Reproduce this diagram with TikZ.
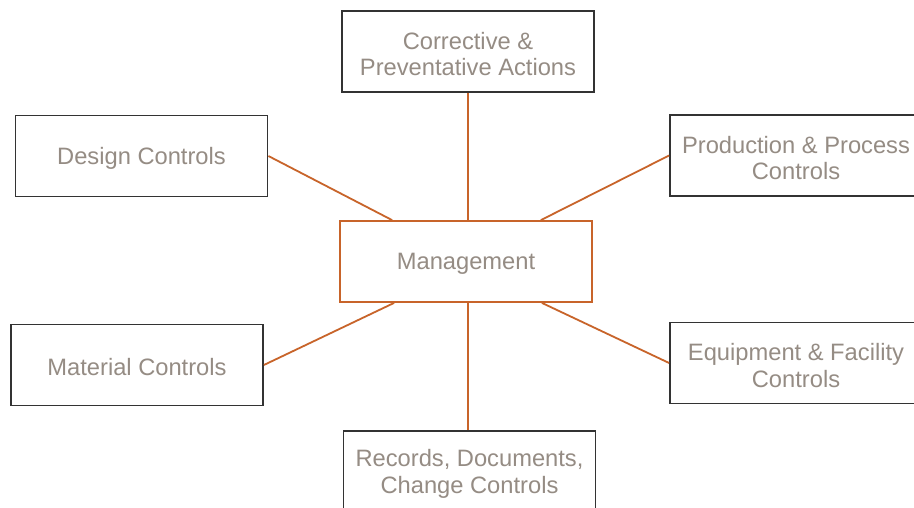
\documentclass[tikz,border=0pt]{standalone}
\usepackage{fontspec}
\setmainfont{Liberation Sans}
\usetikzlibrary{calc}
\definecolor{linkc}{HTML}{C8642A}
\definecolor{txtc}{HTML}{958C84}
\definecolor{boxc}{HTML}{333333}
\tikzset{
  txt/.style={align=center, text=txtc, inner sep=0pt, yshift=-2.5pt,
    font=\fontsize{23.7pt}{26.5pt}\selectfont},
  box/.style={draw=boxc, line width=1.8pt, fill=white, minimum width=252pt, minimum height=81pt,
    inner sep=0pt, label={[txt]center:{#1}}},
  hub/.style={box=#1, draw=linkc},
  link/.style={draw=linkc, line width=1.8pt}
}
\begin{document}
\begin{tikzpicture}[x=1pt,y=-1pt]
\useasboundingbox[fill=white] (0,0) rectangle (914,508);
\node[hub={Management}] (m) at (466,261.5) {};
\node[box={Corrective \&\\Preventative Actions}] (t) at (468,51.5) {};
\node[box={Design Controls}] (d) at (141.5,156) {};
\node[box={Production \& Process\\Controls}] (p) at (796,155.5) {};
\node[box={Material Controls}] (mat) at (137,365) {};
\node[box={Equipment \& Facility\\Controls}] (e) at (796,363) {};
\node[box={Records, Documents,\\Change Controls}] (b) at (469.5,471.5) {};
\draw[link] (t.south) -- (t.south |- m.north);
\draw[link] (d.east) -- ([xshift=53pt]m.north west);
\draw[link] (p.west) -- ([xshift=-52pt]m.north east);
\draw[link] (mat.east) -- ([xshift=55pt]m.south west);
\draw[link] (e.west) -- ([xshift=-51pt]m.south east);
\draw[link] ([xshift=2pt]m.south) -- ([xshift=2pt]m.south |- b.north);
\end{tikzpicture}
\end{document}
